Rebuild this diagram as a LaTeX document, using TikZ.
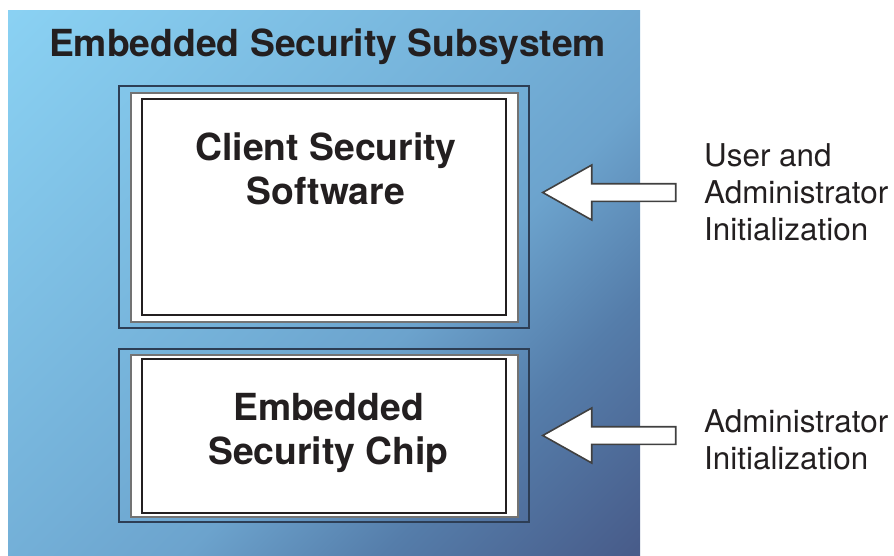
\documentclass[tikz,border=0pt]{standalone}
\usepackage{fontspec}
\setmainfont{TeX Gyre Heros}
\usepackage{tikz}
\usetikzlibrary{calc}

\definecolor{bglight}{RGB}{140,212,245}
\definecolor{bgmid}{RGB}{115,175,215}
\definecolor{bgsteel}{RGB}{108,163,205}
\definecolor{bgdeep}{RGB}{85,125,170}
\definecolor{bgdark}{RGB}{72,92,138}
\definecolor{edgedark}{RGB}{45,62,85}
\definecolor{edgegray}{RGB}{115,115,115}
\definecolor{inkblack}{RGB}{35,31,32}
\pgfdeclareverticalshading{bgfade}{100bp}{color(0bp)=(bgdark); color(15bp)=(bgdark); color(30bp)=(bgdeep); color(42bp)=(bgsteel); color(52bp)=(bgmid); color(88bp)=(bglight); color(100bp)=(bglight)}

\begin{document}
\begin{tikzpicture}[x=1pt,y=-1pt,
  outerbox/.style={draw=edgedark,line width=1.5pt,inner sep=0pt},
  framebox/.style={draw=edgegray,fill=white,line width=2pt,inner sep=0pt},
  innerbox/.style={draw=inkblack,line width=1.3pt,inner sep=0pt},
  boldtext/.style={font=\fontsize{37.3}{44}\selectfont\bfseries,text=inkblack,align=center,inner sep=0pt},
  sidetext/.style={font=\fontsize{31.4}{37}\selectfont,text=inkblack,align=left,inner sep=0pt,anchor=west},
  blockarrow/.style={draw=black!75,fill=white,line width=1.6pt,line join=miter}]
\useasboundingbox (0,0) rectangle (894,555);

%Shaded background
\shade [shading=bgfade,shading angle=45] (8,10) rectangle (640,555);

% Title
\node [boldtext,anchor=base] (title) at (327.5,56) {Embedded Security Subsystem};

%Client security box
\node [outerbox,minimum width=410pt,minimum height=242pt] (clientouter) at (324,207) {};
\node [framebox,minimum width=387pt,minimum height=229pt] (clientframe) at (324.5,207.5) {};
\node [innerbox,minimum width=364pt,minimum height=216pt] (clientinner) at (324,207) {};
\node [boldtext] (clienttext) at (326,169) {Client Security\\Software};

%Security chip box
\node [outerbox,minimum width=410pt,minimum height=173pt] (chipouter) at (324,435.5) {};
\node [framebox,minimum width=387pt,minimum height=162pt] (chipframe) at (324.5,436) {};
\node [innerbox,minimum width=364pt,minimum height=154pt] (chipinner) at (324,436) {};
\node [boldtext] (chiptext) at (328.5,432.5) {Embedded\\Security Chip};

% Text Node
\node [sidetext] (usertext) at (704,192.5) {User and\\Administrator\\Initialization};
% Text Node
\node [sidetext] (admintext) at (704,439.5) {Administrator\\Initialization};

%Block arrows
\coordinate (clienttip) at ($(clientouter.east |- usertext.west)+(13,0)$);
\coordinate (chiptip) at ($(chipouter.east)+(13,0)$);
\draw [blockarrow] (clienttip) -- ++(49,-27.5) -- ++(0,18.7) -- ++(84,0) -- ++(0,17.6) -- ++(-84,0) -- ++(0,18.7) -- cycle;
\draw [blockarrow] (chiptip) -- ++(49,-27.5) -- ++(0,18.7) -- ++(84,0) -- ++(0,17.6) -- ++(-84,0) -- ++(0,18.7) -- cycle;

\end{tikzpicture}
\end{document}
